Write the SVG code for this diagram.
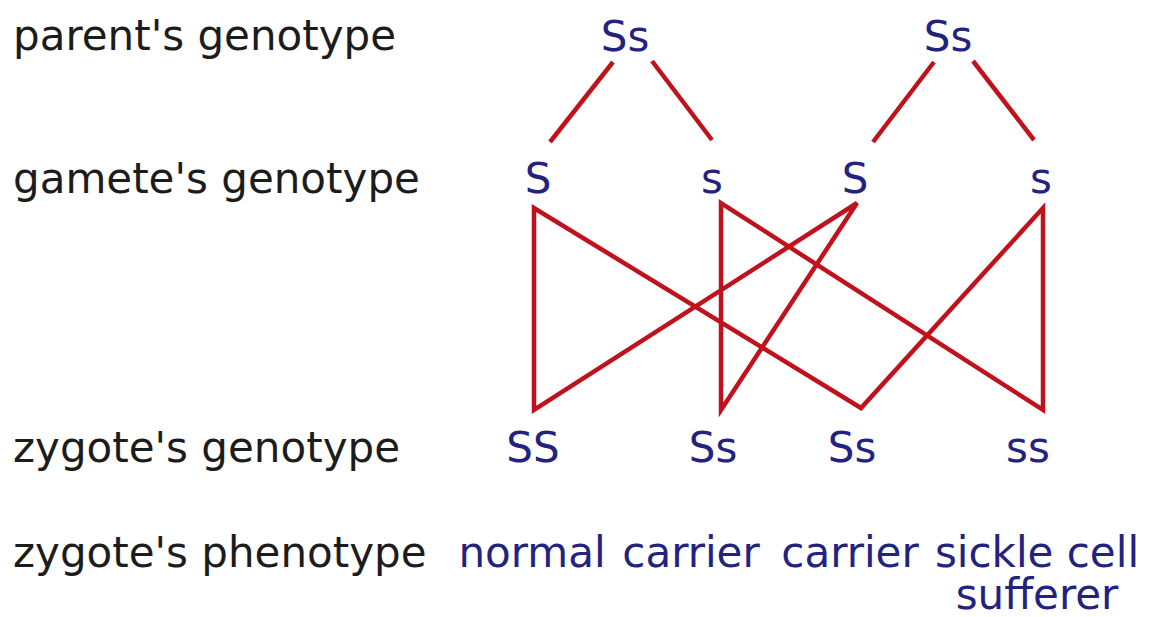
<svg xmlns="http://www.w3.org/2000/svg" width="1155" height="617" viewBox="0 0 1155 617">
  <style>
    .row { font-family: "DejaVu Sans", Verdana, sans-serif; font-size: 42px; fill: #1c1c1c; }
    .gene { font-family: "DejaVu Sans", Verdana, sans-serif; font-size: 42px; fill: #23237f; text-anchor: middle; }
    .link { stroke: #c0121c; stroke-width: 4.5; fill: none; stroke-linecap: butt; stroke-linejoin: miter; }
  </style>
  <rect width="1155" height="617" fill="#ffffff"/>

  <!-- row labels -->
  <g id="labels">
    <text class="row" x="13" y="50">parent's genotype</text>
    <text class="row" x="13" y="193">gamete's genotype</text>
    <text class="row" x="13" y="462">zygote's genotype</text>
    <text class="row" x="13" y="567">zygote's phenotype</text>
  </g>

  <!-- parents -->
  <g id="parent1"><text class="gene" x="625" y="51">Ss</text></g>
  <g id="parent2"><text class="gene" x="948" y="51">Ss</text></g>

  <!-- gametes -->
  <g id="gamete1"><text class="gene" x="538" y="193">S</text></g>
  <g id="gamete2"><text class="gene" x="712" y="193">s</text></g>
  <g id="gamete3"><text class="gene" x="855" y="193">S</text></g>
  <g id="gamete4"><text class="gene" x="1041" y="193">s</text></g>

  <!-- zygotes -->
  <g id="zygote1"><text class="gene" x="533" y="462">SS</text></g>
  <g id="zygote2"><text class="gene" x="713" y="462">Ss</text></g>
  <g id="zygote3"><text class="gene" x="852" y="462">Ss</text></g>
  <g id="zygote4"><text class="gene" x="1028" y="462">ss</text></g>

  <!-- phenotypes -->
  <g id="pheno1"><text class="gene" x="532" y="567">normal</text></g>
  <g id="pheno2"><text class="gene" x="691" y="567">carrier</text></g>
  <g id="pheno3"><text class="gene" x="850" y="567">carrier</text></g>
  <g id="pheno4">
    <text class="gene" x="1037" y="567">sickle cell<tspan x="1037" dy="42">sufferer</tspan></text>
  </g>

  <!-- connectors: parent to gametes, gametes to zygotes -->
  <g id="connectors" class="link">
    <line x1="613" y1="62" x2="550" y2="142"/>
    <line x1="652" y1="61" x2="712" y2="140"/>
    <line x1="934" y1="62" x2="873" y2="142"/>
    <line x1="973" y1="61" x2="1034" y2="140"/>

    <path d="M534 410 L534 208 L861 408 L1043 208 L1043 410 L721 203 L721 410 L857 203 Z"/>
  </g>
</svg>
